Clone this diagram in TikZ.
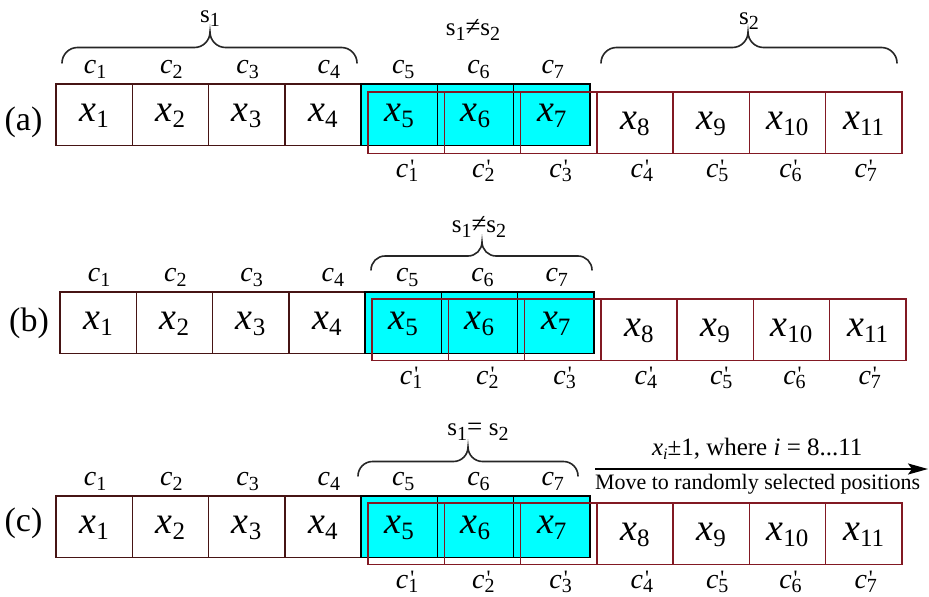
\documentclass[tikz,border=0pt]{standalone}
\usepackage{fontspec}
\setmainfont{Liberation Serif}
\usetikzlibrary{arrows.meta}
\definecolor{brownline}{RGB}{70,20,20}
\definecolor{redline}{RGB}{130,25,35}
\definecolor{cellcyan}{RGB}{0,255,255}
\newcommand\fs[1]{\fontsize{#1}{#1}\selectfont}
\newcommand\xv[1]{{\fs{38}\itshape x}\raisebox{-6pt}{\fs{25}#1}}
\newcommand\cv[1]{{\fs{28}\itshape c}\raisebox{-5pt}{\fs{20}#1}}
\newcommand\cp[1]{{\fs{28}\itshape c}\makebox[0pt][l]{\hspace{2pt}\raisebox{3pt}{\fs{22}\textquotesingle}}\raisebox{-4pt}{\fs{20}#1}}
\newcommand\sv[1]{{\fs{25}s}\raisebox{-5pt}{\fs{20}#1}}
\tikzset{
  cellbase/.style={rectangle, minimum width=76.27pt, minimum height=61.5pt, inner sep=0pt, outer sep=0pt, line width=1.5pt},
  firstcell/.style={cellbase, draw=brownline},
  cyancell/.style={cellbase, draw=black, fill=cellcyan},
  secondcell/.style={cellbase, draw=redline},
  lab/.style={anchor=base, inner sep=0pt, outer sep=0pt},
  bracestyle/.style={line width=1.6pt, draw=black!85, line cap=round},
  arrowline/.style={line width=2.2pt, -{Stealth[length=20pt,width=11pt,inset=4pt]}},
}
\newcommand\chromrow[5]{%
  \foreach \i in {1,...,4}{\node[firstcell] (#1\i) at ({#2+(\i-0.5)*76.27},{#3+30.75}) {};}
  \foreach \i in {5,6,7}{\node[cyancell] (#1\i) at ({#2+(\i-0.5)*76.27},{#3+30.75}) {};}
  \foreach \i in {1,...,7}{\node[secondcell] (#1p\i) at ({#4+(\i-0.5)*76.27},{#5+30.75}) {};}
  \foreach \i in {1,...,7}{\node[lab] (#1x\i) at ([yshift=-7pt]#1\i.center) {\xv{\i}};}
  \foreach \i/\n in {4/8,5/9,6/10,7/11}{\node[lab] (#1x\n) at ([yshift=-7pt]#1p\i.center) {\xv{\n}};}
  \foreach \i/\d in {1/1,2/1,3/1,4/6,5/4,6/3,7/1}{\node[lab] (#1c\i) at ([xshift=\d pt,yshift=11pt]#1\i.north) {\cv{\i}};}
  \foreach \i/\d in {1/1,2/1,3/2,4/7,5/6,6/3,7/2}{\node[lab] (#1q\i) at ([xshift=\d pt,yshift=-24pt]#1p\i.south) {\cp{\i}};}
}
\newcommand\hbrace[5]{%
  \draw[bracestyle] (#1,#4) .. controls (#1,{#4-0.55*#5/2}) and ({#1+0.45*#5/2},{#4-#5/2}) .. ({#1+#5/2},{#4-#5/2})
    -- ({#3-#5/2},{#4-#5/2}) .. controls ({#3-0.45*#5/2},{#4-#5/2}) and (#3,{#4-#5/2-0.45*#5/2}) .. (#3,{#4-#5})
    .. controls (#3,{#4-#5/2-0.45*#5/2}) and ({#3+0.45*#5/2},{#4-#5/2}) .. ({#3+#5/2},{#4-#5/2})
    -- ({#2-#5/2},{#4-#5/2}) .. controls ({#2-0.45*#5/2},{#4-#5/2}) and (#2,{#4-0.55*#5/2}) .. (#2,#4);}
\begin{document}
\begin{tikzpicture}[x=1pt,y=-1pt]
\fill[white] (0,0) rectangle (929,597);
\useasboundingbox (0,0) rectangle (929,597);
% row (a)
\node[lab] (rowa) at (23.5,130) {\fs{34}(a)};
\chromrow{a}{56}{84}{368}{92}
\hbrace{62}{357}{210}{63}{31}
\hbrace{601}{897}{748}{63}{31}
\node[lab] (sa1) at (210,22) {\sv{1}};
\node[lab] (sa2) at (749,24) {\sv{2}};
\node[lab] (sneqa) at (473,35) {\sv{1}{\fs{27}≠}\sv{2}};
% row (b)
\node[lab] (rowb) at (29,331) {\fs{34}(b)};
\chromrow{b}{60}{292}{372}{299}
\hbrace{371}{592}{482}{270}{28}
\node[lab] (sneqb) at (479,232) {\sv{1}{\fs{27}≠}\sv{2}};
% row (c)
\node[lab] (rowc) at (23.5,531) {\fs{34}(c)};
\chromrow{c}{56}{496}{368}{503}
\hbrace{358}{578}{468}{476}{29}
\node[lab] (seqc) at (478,435) {\sv{1}{\fs{27}= }\sv{2}};
\coordinate (arrL) at (595,469);
\coordinate (arrR) at (928,469);
\draw[arrowline] (arrL) -- (arrR);
\node[lab, anchor=base west] (arrtop) at (652,455) {\fs{25}\textit{x}\raisebox{-4pt}{\fs{16}\textit{i}}±1, where \textit{i} = 8...11};
\node[lab, anchor=base west] (arrbot) at (595,489) {\fs{22}Move to randomly selected positions};
\end{tikzpicture}
\end{document}
